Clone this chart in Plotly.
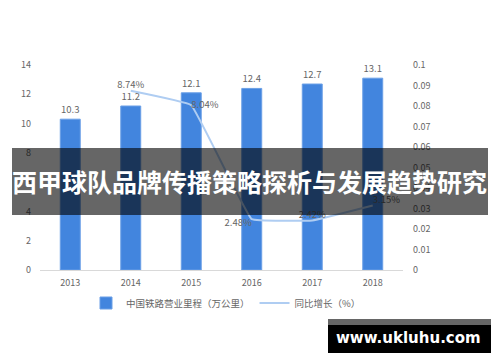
import plotly.graph_objects as go

years = ["2013", "2014", "2015", "2016", "2017", "2018"]
mileage = [10.3, 11.2, 12.1, 12.4, 12.7, 13.1]
growth = [None, 0.0874, 0.0804, 0.0248, 0.0242, 0.0315]
growth_labels = ["", "8.74%", "8.04%", "2.48%", "2.42%", "3.15%"]
growth_pos = ["top center", "top center", "middle right", "bottom left", "top center", "top right"]
left_ticks = [0, 2, 4, 6, 8, 10, 12, 14]
right_ticks = [0, 0.01, 0.02, 0.03, 0.04, 0.05, 0.06, 0.07, 0.08, 0.09, 0.1]
right_tick_text = ["0", "0.01", "0.02", "0.03", "0.04", "0.05", "0.06", "0.07", "0.08", "0.09", "0.1"]

BAR = "#4285de"
LINE = "#afcdf2"
TXT = "#666666"
FONT = "Noto Sans CJK SC"

fig = go.Figure()
fig.add_trace(go.Bar(
    x=years, y=mileage, name="中国铁路营业里程（万公里）",
    marker=dict(color=BAR, line=dict(width=1, color="#6a9fe6")),
    text=[str(v) for v in mileage], textposition="outside",
    textfont=dict(size=9.5, color=TXT, family=FONT), cliponaxis=False,
    yaxis="y",
))
fig.add_trace(go.Scatter(
    x=years, y=growth, name="同比增长（%）", mode="lines+text",
    line=dict(color=LINE, width=2, shape="spline", smoothing=0.2),
    text=growth_labels, textposition=growth_pos,
    textfont=dict(size=9.5, color=TXT, family=FONT), cliponaxis=False,
    yaxis="y2",
))

fig.update_layout(
    width=500, height=362,
    margin=dict(l=40, r=97, t=65, b=92, autoexpand=False),
    paper_bgcolor="white", plot_bgcolor="white",
    font=dict(family=FONT, size=9, color=TXT),
    bargap=0.67,
    showlegend=True,
    legend=dict(orientation="h", x=(86 - 40) / 363, xanchor="left",
                y=(270 - 303) / 205, yanchor="middle",
                font=dict(size=9.5, color=TXT, family=FONT),
                itemwidth=30, tracegroupgap=0),
    xaxis=dict(showgrid=False, showline=True, linecolor="#d9d9d9", linewidth=1,
               ticks="", tickfont=dict(size=9, color=TXT), zeroline=False,
               ticklabelstandoff=4),
    yaxis=dict(range=[0, 14], tickvals=left_ticks, showgrid=False, zeroline=False,
               showline=False, ticks="", tickfont=dict(size=9, color=TXT), ticklabelstandoff=8),
    yaxis2=dict(range=[0, 0.1], tickvals=right_ticks, ticktext=right_tick_text,
                overlaying="y", side="right", showgrid=False, zeroline=False,
                showline=False, ticks="", tickfont=dict(size=9, color=TXT), ticklabelstandoff=9),
)

# overlay banner
fig.add_shape(type="rect", xref="paper", yref="paper",
              x0=(12 - 40) / 363, x1=(488 - 40) / 363,
              y0=(270 - 215) / 205, y1=(270 - 148) / 205,
              fillcolor="rgba(0,0,0,0.6)", line=dict(width=0), layer="above")
fig.add_annotation(xref="paper", yref="paper", x=(249 - 40) / 363, y=(270 - 181) / 205,
                   text="<b>西甲球队品牌传播策略探析与发展趋势研究</b>", showarrow=False,
                   font=dict(size=25, color="white", family=FONT), xanchor="center", yanchor="middle")

# watermark box
fig.add_shape(type="rect", xref="paper", yref="paper",
              x0=(328 - 40) / 363, x1=(491 - 40) / 363,
              y0=(270 - 353) / 205, y1=(270 - 319) / 205,
              fillcolor="black", line=dict(width=0), layer="above")
fig.add_shape(type="rect", xref="paper", yref="paper",
              x0=(328 - 40) / 363, x1=(491 - 40) / 363,
              y0=(270 - 325) / 205, y1=(270 - 319) / 205,
              fillcolor="#666666", line=dict(width=0), layer="above")
fig.add_annotation(xref="paper", yref="paper", x=(408 - 40) / 363, y=(270 - 338) / 205,
                   text="<b>www.ukluhu.com</b>", showarrow=False,
                   font=dict(size=15, color="white", family="DejaVu Sans"),
                   xanchor="center", yanchor="middle")

fig.write_html("out.html")
